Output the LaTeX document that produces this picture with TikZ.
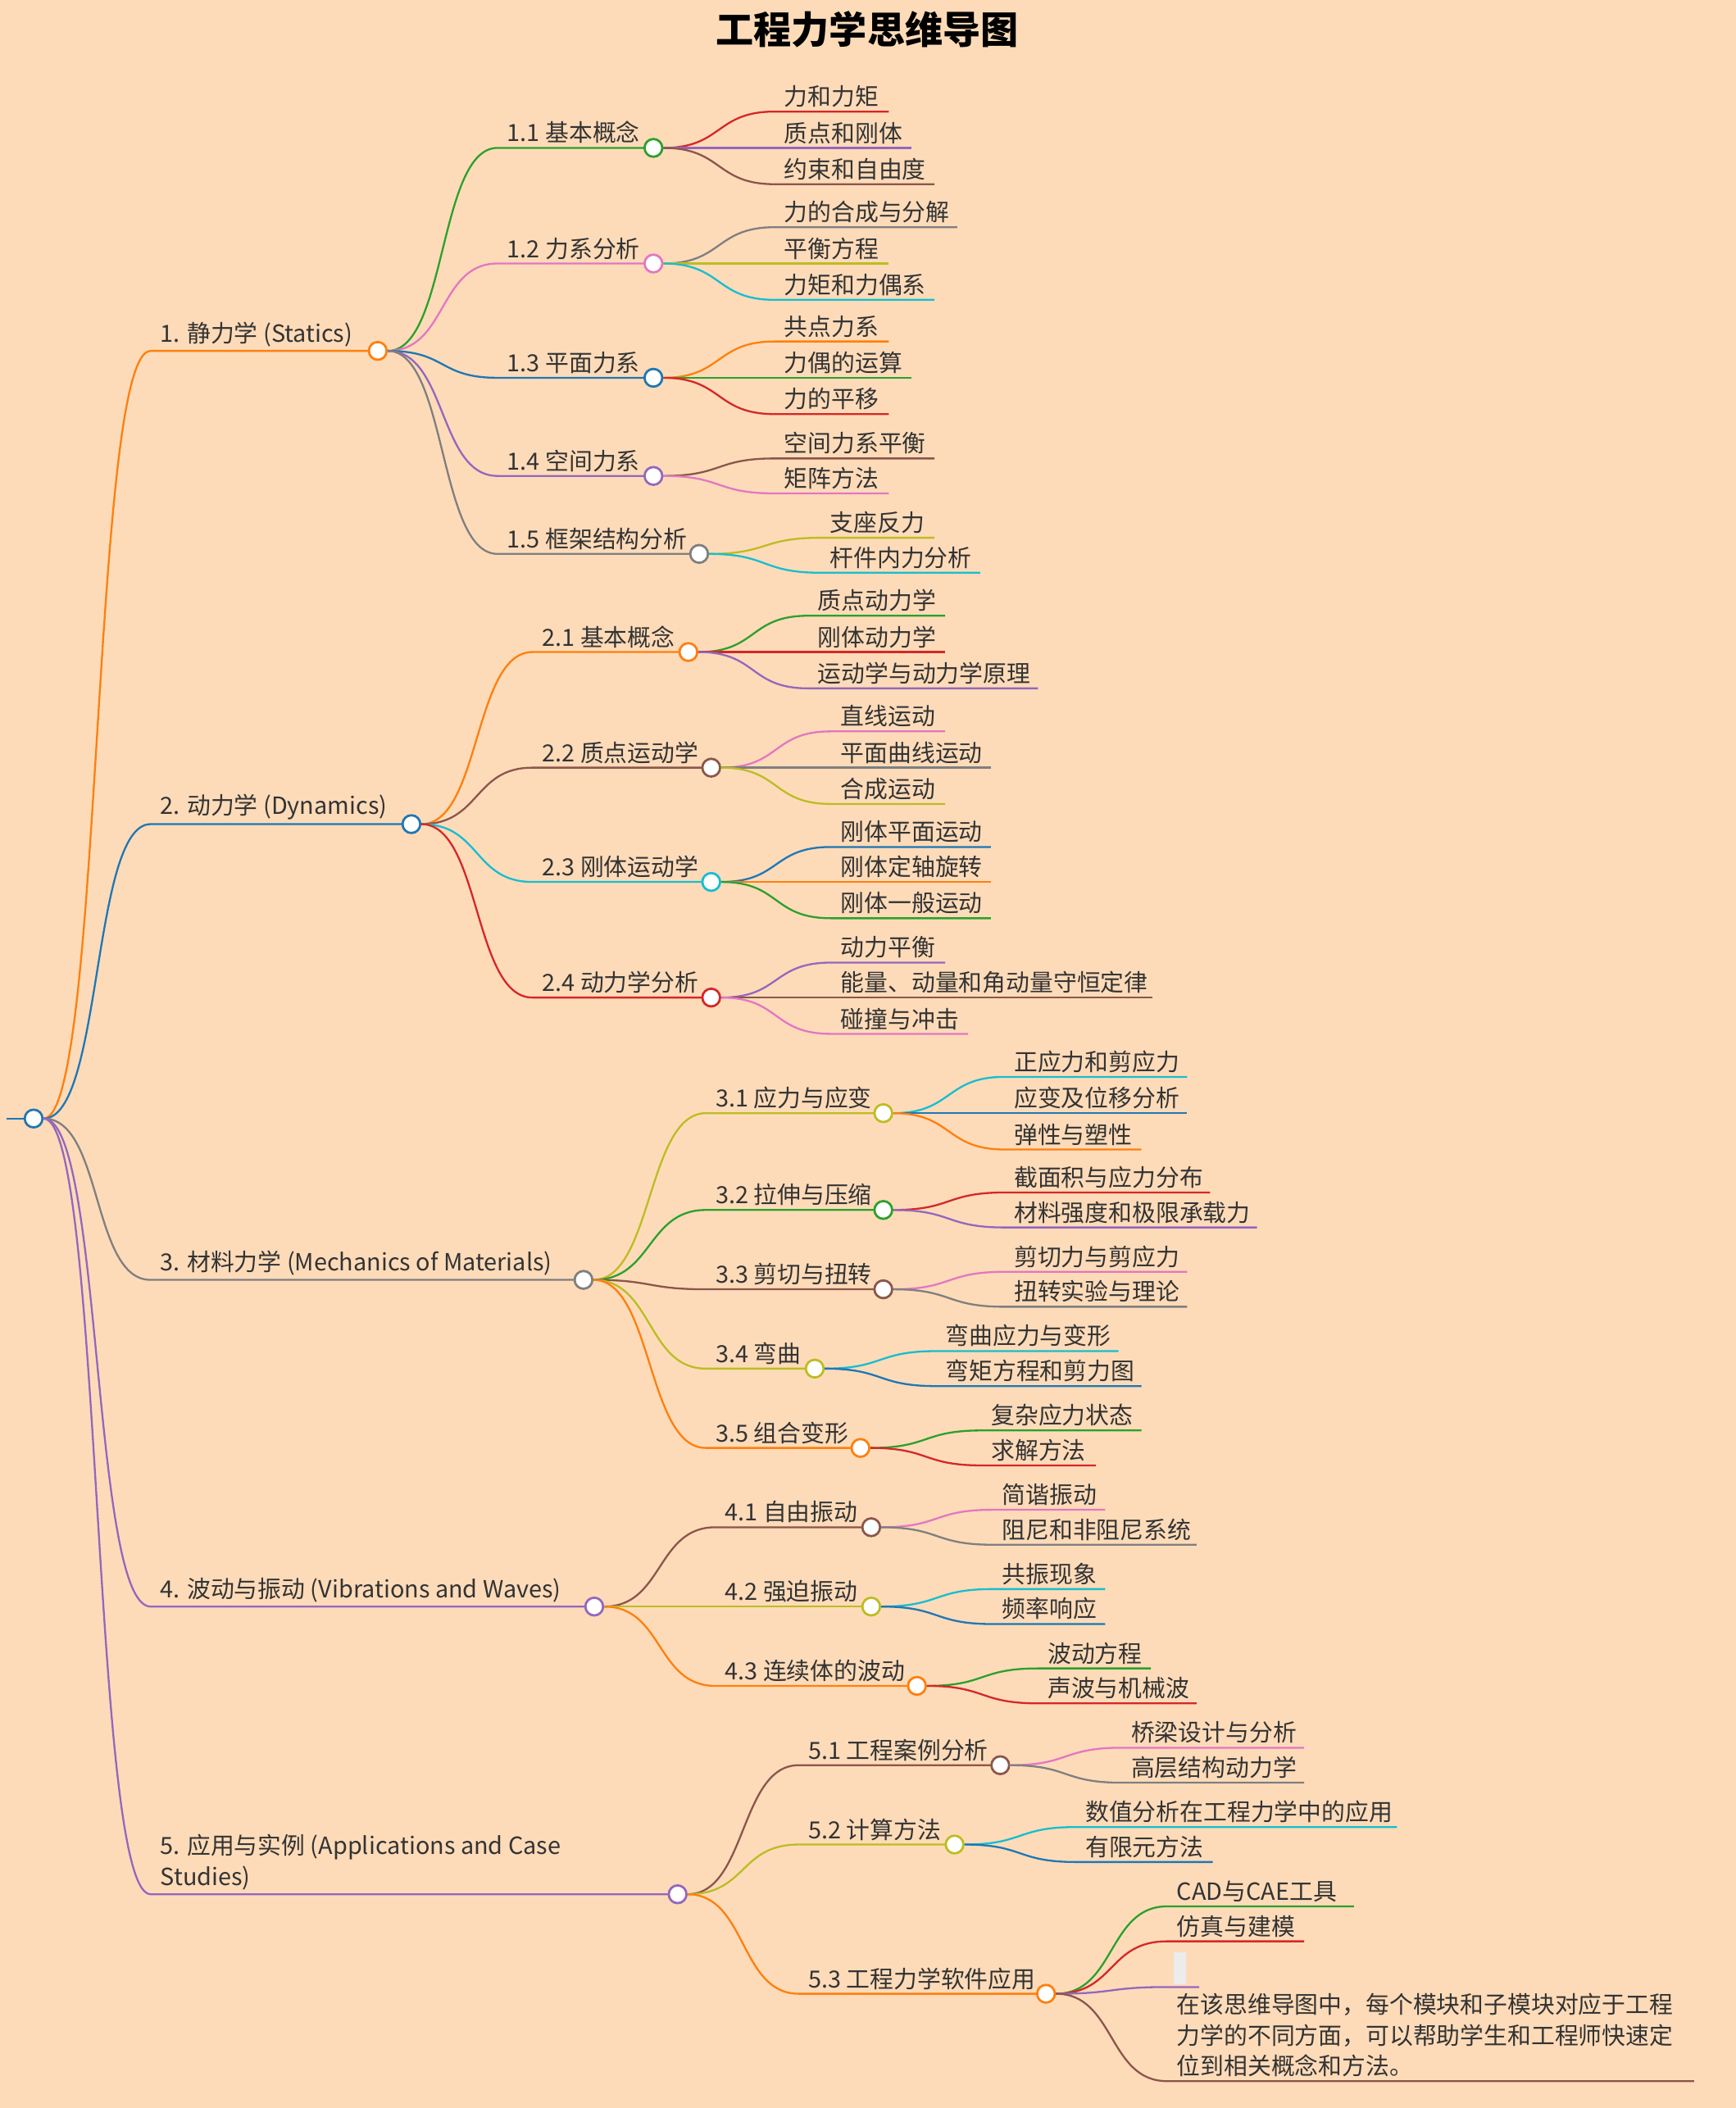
\documentclass[tikz,border=0pt]{standalone}
\usepackage{fontspec}
\setmainfont{Noto Sans CJK SC}
\definecolor{bgc}{HTML}{FDDBB9}
\definecolor{txt}{HTML}{333333}
\definecolor{cor}{HTML}{FF7F0E}
\definecolor{cbl}{HTML}{1F77B4}
\definecolor{cgr}{HTML}{2CA02C}
\definecolor{cre}{HTML}{D62728}
\definecolor{cpu}{HTML}{9467BD}
\definecolor{cbr}{HTML}{8C564B}
\definecolor{cpi}{HTML}{E377C2}
\definecolor{cgy}{HTML}{7F7F7F}
\definecolor{col}{HTML}{BCBD22}
\definecolor{ccy}{HTML}{17BECF}
\usetikzlibrary{positioning}

\tikzset{
  conn/.style={line width=1pt},
  circ/.style={circle, fill=white, line width=1.2pt, minimum size=0.33cm, inner sep=0pt},
  lbl/.style={anchor=south west, text=txt, font=\fontsize{12.5}{16.3}\selectfont, inner sep=1pt, xshift=4pt, yshift=1pt, align=left}
}

% branch with circle: name, parent, line start x, circle x, y, colour, text
\newcommand{\branch}[7]{%
  \coordinate (#1s) at (#3,#5);
  \coordinate (#1c) at (#4,#5);
  \draw[conn, #6] (#2) to[out=0, in=180, distance=1.1cm] (#1s) -- (#1c);
  \node[circ, draw=#6] (#1) at (#1c) {};
  \node[lbl] (#1t) at (#1s) {#7};}

% leaf: name, parent, line start x, line end x, y, colour, text
\newcommand{\leaf}[7]{%
  \coordinate (#1s) at (#3,#5);
  \coordinate (#1e) at (#4,#5);
  \draw[conn, #6] (#2) to[out=0, in=180, distance=1.1cm] (#1s) -- (#1e);
  \node[lbl] (#1t) at (#1s) {#7};}

\begin{document}
\begin{tikzpicture}[x=0.025cm, y=-0.025cm]

\fill[bgc] (0,0) rectangle (1291,1568);
\useasboundingbox (0,0) rectangle (1291,1568);

\node[font=\fontsize{20}{24}\selectfont\bfseries] (title) at (645,22) {工程力学思维导图};

% root
\coordinate (stub) at (5,832);
\draw[conn, cbl] (stub) -- (25,832);
\node[circ, draw=cbl] (root) at (25,832) {};

% 1. statics
\branch{a}{root}{112}{281}{261}{cor}{1. 静力学 (Statics)}
\branch{a1}{a}{370}{486}{110}{cgr}{1.1 基本概念}
\leaf{a11}{a1}{576}{661}{83}{cre}{力和力矩}
\leaf{a12}{a1}{576}{678}{110}{cpu}{质点和刚体}
\leaf{a13}{a1}{576}{695}{137}{cbr}{约束和自由度}
\branch{a2}{a}{370}{486}{196}{cpi}{1.2 力系分析}
\leaf{a21}{a2}{576}{712}{169}{cgy}{力的合成与分解}
\leaf{a22}{a2}{576}{661}{196}{col}{平衡方程}
\leaf{a23}{a2}{576}{695}{223}{ccy}{力矩和力偶系}
\branch{a3}{a}{370}{486}{281}{cbl}{1.3 平面力系}
\leaf{a31}{a3}{576}{661}{254}{cor}{共点力系}
\leaf{a32}{a3}{576}{678}{281}{cgr}{力偶的运算}
\leaf{a33}{a3}{576}{661}{308}{cre}{力的平移}
\branch{a4}{a}{370}{486}{354}{cpu}{1.4 空间力系}
\leaf{a41}{a4}{576}{695}{341}{cbr}{空间力系平衡}
\leaf{a42}{a4}{576}{661}{367}{cpi}{矩阵方法}
\branch{a5}{a}{370}{520}{412}{cgy}{1.5 框架结构分析}
\leaf{a51}{a5}{610}{695}{400}{col}{支座反力}
\leaf{a52}{a5}{610}{729}{426}{ccy}{杆件内力分析}

% 2. dynamics
\branch{b}{root}{112}{306}{613}{cbl}{2. 动力学 (Dynamics)}
\branch{b1}{b}{396}{512}{485}{cor}{2.1 基本概念}
\leaf{b11}{b1}{601}{703}{458}{cgr}{质点动力学}
\leaf{b12}{b1}{601}{703}{485}{cre}{刚体动力学}
\leaf{b13}{b1}{601}{772}{512}{cpu}{运动学与动力学原理}
\branch{b2}{b}{396}{529}{571}{cbr}{2.2 质点运动学}
\leaf{b21}{b2}{618}{703}{544}{cpi}{直线运动}
\leaf{b22}{b2}{618}{737}{571}{cgy}{平面曲线运动}
\leaf{b23}{b2}{618}{703}{598}{col}{合成运动}
\branch{b3}{b}{396}{529}{656}{ccy}{2.3 刚体运动学}
\leaf{b31}{b3}{618}{737}{630}{cbl}{刚体平面运动}
\leaf{b32}{b3}{618}{737}{656}{cor}{刚体定轴旋转}
\leaf{b33}{b3}{618}{737}{683}{cgr}{刚体一般运动}
\branch{b4}{b}{396}{529}{742}{cre}{2.4 动力学分析}
\leaf{b41}{b4}{618}{703}{716}{cpu}{动力平衡}
\leaf{b42}{b4}{618}{857}{742}{cbr}{能量、动量和角动量守恒定律}
\leaf{b43}{b4}{618}{720}{769}{cpi}{碰撞与冲击}

% 3. mechanics of materials
\branch{c}{root}{112}{434}{952}{cgy}{3. 材料力学 (Mechanics of Materials)}
\branch{c1}{c}{525}{657}{828}{col}{3.1 应力与应变}
\leaf{c11}{c1}{747}{883}{801}{ccy}{正应力和剪应力}
\leaf{c12}{c1}{747}{883}{828}{cbl}{应变及位移分析}
\leaf{c13}{c1}{747}{849}{855}{cor}{弹性与塑性}
\branch{c2}{c}{525}{657}{900}{cgr}{3.2 拉伸与压缩}
\leaf{c21}{c2}{747}{900}{887}{cre}{截面积与应力分布}
\leaf{c22}{c2}{747}{935}{913}{cpu}{材料强度和极限承载力}
\branch{c3}{c}{525}{657}{959}{cbr}{3.3 剪切与扭转}
\leaf{c31}{c3}{747}{883}{946}{cpi}{剪切力与剪应力}
\leaf{c32}{c3}{747}{883}{972}{cgy}{扭转实验与理论}
\branch{c4}{c}{525}{606}{1018}{col}{3.4 弯曲}
\leaf{c41}{c4}{696}{832}{1005}{ccy}{弯曲应力与变形}
\leaf{c42}{c4}{696}{849}{1031}{cbl}{弯矩方程和剪力图}
\branch{c5}{c}{525}{640}{1077}{cor}{3.5 组合变形}
\leaf{c51}{c5}{730}{849}{1064}{cgr}{复杂应力状态}
\leaf{c52}{c5}{730}{815}{1090}{cre}{求解方法}

% 4. vibrations and waves
\branch{d}{root}{112}{442}{1195}{cpu}{4. 波动与振动 (Vibrations and Waves)}
\branch{d1}{d}{532}{648}{1136}{cbr}{4.1 自由振动}
\leaf{d11}{d1}{738}{822}{1123}{cpi}{简谐振动}
\leaf{d12}{d1}{738}{890}{1149}{cgy}{阻尼和非阻尼系统}
\branch{d2}{d}{532}{648}{1195}{col}{4.2 强迫振动}
\leaf{d21}{d2}{738}{822}{1182}{ccy}{共振现象}
\leaf{d22}{d2}{738}{822}{1208}{cbl}{频率响应}
\branch{d3}{d}{532}{682}{1254}{cor}{4.3 连续体的波动}
\leaf{d31}{d3}{772}{856}{1241}{cgr}{波动方程}
\leaf{d32}{d3}{772}{890}{1267}{cre}{声波与机械波}

% 5. applications
\branch{e}{root}{112}{504}{1409}{cpu}{5. 应用与实例 (Applications and Case\\Studies)}
\branch{e1}{e}{594}{744}{1313}{cbr}{5.1 工程案例分析}
\leaf{e11}{e1}{834}{970}{1300}{cpi}{桥梁设计与分析}
\leaf{e12}{e1}{834}{970}{1326}{cgy}{高层结构动力学}
\branch{e2}{e}{594}{710}{1372}{col}{5.2 计算方法}
\leaf{e21}{e2}{800}{1039}{1359}{ccy}{数值分析在工程力学中的应用}
\leaf{e22}{e2}{800}{902}{1385}{cbl}{有限元方法}
\branch{e3}{e}{594}{778}{1483}{cor}{5.3 工程力学软件应用}
\leaf{e31}{e3}{868}{1007}{1418}{cgr}{CAD与CAE工具}
\leaf{e32}{e3}{868}{970}{1444}{cre}{仿真与建模}
\leaf{e33}{e3}{868}{892}{1478}{cpu}{}
\fill[gray!15] (873,1452) rectangle (882,1476);
\leaf{e34}{e3}{868}{1260}{1548}{cbr}{在该思维导图中，每个模块和子模块对应于工程\\力学的不同方面，可以帮助学生和工程师快速定\\位到相关概念和方法。}

\end{tikzpicture}
\end{document}
